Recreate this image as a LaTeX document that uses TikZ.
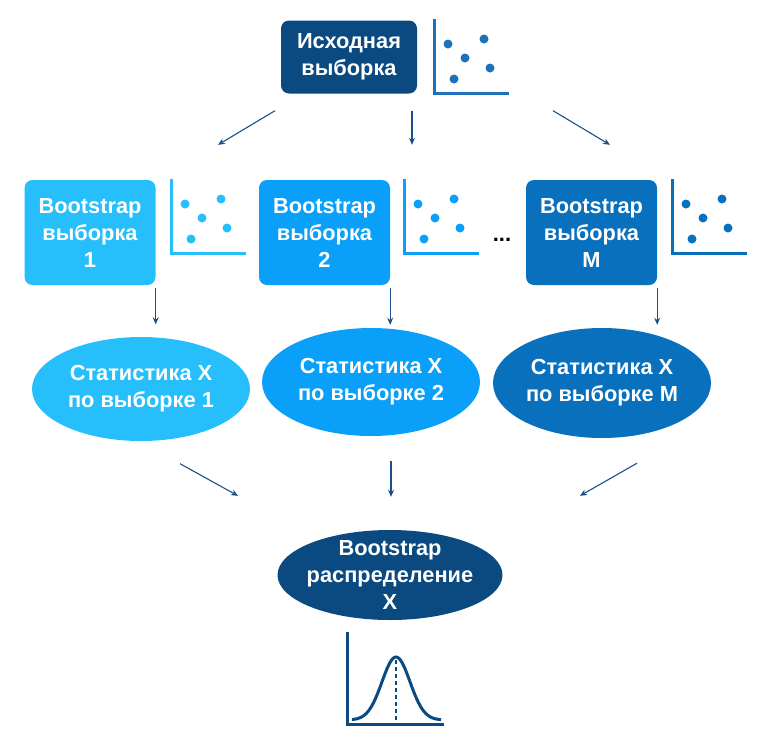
\documentclass[tikz,border=0pt]{standalone}
\usepackage{fontspec}
\setmainfont{Liberation Sans}
\usetikzlibrary{positioning, shapes.geometric, arrows.meta}
\definecolor{navy}{HTML}{0B4A80}
\definecolor{plotblue}{HTML}{1E70BA}
\definecolor{skyA}{HTML}{26BFFC}
\definecolor{skyB}{HTML}{0AA0FA}
\definecolor{skyM}{HTML}{0870BD}
\definecolor{flowblue}{HTML}{1A4F8A}
\tikzset{
sample/.style={rectangle, rounded corners=8pt, minimum width=131pt, minimum height=105pt, inner sep=0pt, text=white, align=center, font=\bfseries\fontsize{21.8}{27}\selectfont}, % boxes with the samples
stat/.style={ellipse, minimum width=218pt, minimum height=104pt, inner sep=0pt, text=white, align=center, font=\bfseries\fontsize{21.8}{27}\selectfont}, % statistic of one sample
flow/.style={draw=flowblue, line width=1.1pt, -{Stealth[length=7pt, width=6pt]}},
axis/.style={line width=3pt, line cap=rect},
pics/scatter/.style={code={
    \draw[axis, draw=#1] (0,-73) -- (0,0) -- (73,0);
    \foreach \dx/\dy in {14/-49, 50/-54, 31/-35, 56/-25, 20/-14}
        \fill[#1] (\dx,\dy) circle (4.5pt);
}},
}
\begin{document}
\begin{tikzpicture}[x=1pt, y=-1pt]
    \useasboundingbox (0,0) rectangle (766,750);
    % original sample
    \node[sample, fill=navy, minimum width=136pt, minimum height=73pt] (orig) at (349,57) {Исходная\\выборка};
    \pic at (434,93) {scatter=plotblue};
    % bootstrap samples
    \node[sample, fill=skyA] (boot1) at (90,232.5) {Bootstrap\\выборка\\1};
    \node[sample, fill=skyB] (boot2) at (324.5,232.5) {Bootstrap\\выборка\\2};
    \node[sample, fill=skyM] (bootM) at (591.5,232.5) {Bootstrap\\выборка\\M};
    \pic at (171,253) {scatter=skyA};
    \pic at (404,253) {scatter=skyB};
    \pic at (672,253) {scatter=skyM};
    \node[anchor=base, font=\bfseries\fontsize{22}{27}\selectfont] (more) at (502,241) {...};
    % statistics
    \node[stat, fill=skyA] (stat1) at (141,389) {Статистика X\\по выборке 1};
    \node[stat, fill=skyB, minimum height=108pt] (stat2) at (371,382) {Статистика X\\по выборке 2};
    \node[stat, fill=skyM, minimum height=110pt] (statM) at (602,383) {Статистика X\\по выборке M};
    % result
    \node[stat, fill=navy, minimum width=225pt, minimum height=90pt, inner sep=-10pt] (distr) at (390,575) {Bootstrap\\распределение\\X};

    \draw[flow] ([shift={(-74,17)}]orig.south) -- ([shift={(128,-35)}]boot1.north);
    \draw[flow] ([shift={(63,17)}]orig.south) -- ([shift={(87.5,-35)}]boot2.north);
    \draw[flow] ([shift={(204,17)}]orig.south) -- ([shift={(18.5,-35)}]bootM.north);
    \foreach \b/\s/\cut in {boot1/stat1/12.5, boot2/stat2/3, bootM/statM/3}
        \draw[flow, shorten >=\cut pt] ([yshift=-3pt]\b.south east) -- (\b.south east |- \s.north);
    \draw[flow] ([shift={(39,22.5)}]stat1.south) -- ([shift={(-152,-34)}]distr.north);
    \draw[flow] ([shift={(20,25)}]stat2.south) -- ([shift={(1,-33)}]distr.north);
    \draw[flow] ([shift={(35,25)}]statM.south) -- ([shift={(190,-34)}]distr.north);

    % bell curve
    \draw[axis, draw=navy] (347,633) -- (347,724) -- (442,724);
    \draw[navy, line width=3pt, smooth] plot[domain=352:441, samples=60] (\x, {720-63*exp(-((\x-396)/14)^2/2)});
    \draw[navy, line width=2pt, dash pattern=on 4pt off 3pt] (396,660) -- (396,724);
\end{tikzpicture}
\end{document}
